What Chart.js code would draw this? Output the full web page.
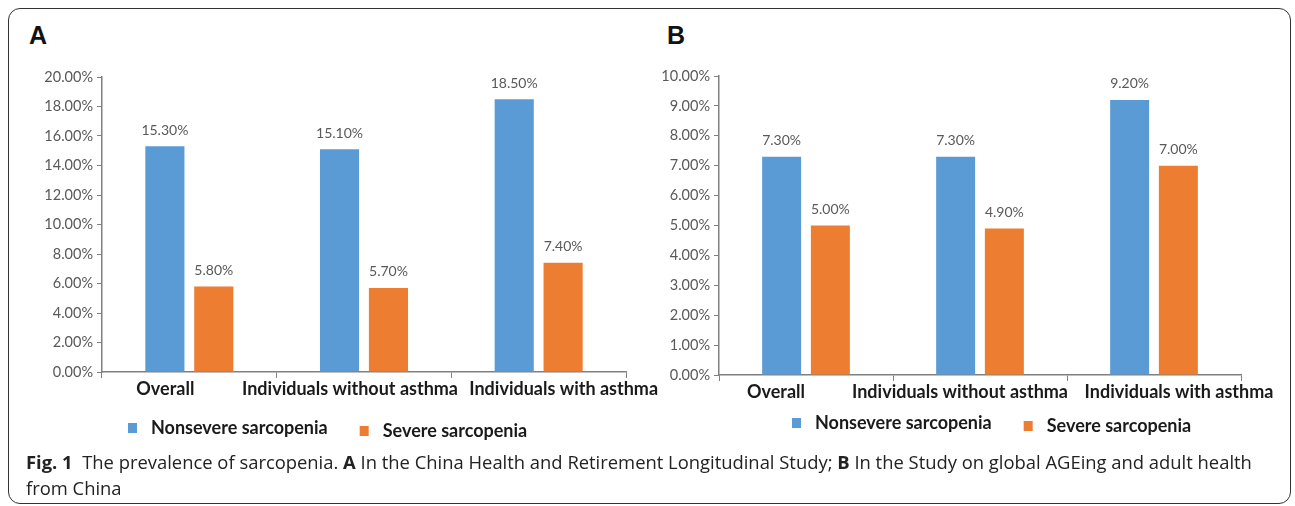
<!DOCTYPE html>
<html>
<head>
<meta charset="utf-8">
<script src="https://cdn.jsdelivr.net/npm/chart.js@4.4.1/dist/chart.umd.min.js"></script>
<style>
  body { margin: 0; background: #fff; width: 1295px; height: 506px; position: relative; overflow: hidden; }
  #frame { position: absolute; left: 8px; top: 8px; width: 1281px; height: 494px; border: 1px solid #333; border-radius: 12px; }
  .panelLetter { position: absolute; font-family: "Liberation Sans", Arial, sans-serif; font-weight: bold; font-size: 25px; color: #111; }
  .box { position: absolute; }
  #caption { position: absolute; left: 26px; top: 449px; font-family: "Open Sans", sans-serif; font-size: 18.4px; line-height: 26px; color: #222; white-space: nowrap; }
</style>
</head>
<body>
<div id="frame"></div>
<div class="panelLetter" style="left:29px; top:21px;">A</div>
<div class="panelLetter" style="left:667px; top:21px;">B</div>
<div class="box" style="left:9px; top:60px; width:660px; height:390px;"><canvas id="chartA"></canvas></div>
<div class="box" style="left:650px; top:60px; width:640px; height:390px;"><canvas id="chartB"></canvas></div>
<div id="caption"><b>Fig. 1</b>&nbsp;&nbsp;The prevalence of sarcopenia. <b>A</b> In the China Health and Retirement Longitudinal Study; <b>B</b> In the Study on global AGEing and adult health<br>from China</div>

<script>
// categories + values (percent)
var categories = ["Overall", "Individuals without asthma", "Individuals with asthma"]
var seriesNames = ["Nonsevere sarcopenia", "Severe sarcopenia"]
var nonsevereA = [15.3, 15.1, 18.5]
var severeA = [5.8, 5.7, 7.4]
var nonsevereB = [7.3, 7.3, 9.2]
var severeB = [5.0, 4.9, 7.0]

var blue = "#5b9bd5"
var orange = "#ed7d31"
var chartFont = "Lato, 'Open Sans', sans-serif"

// value labels above bars
var barLabels = {
  id: "barLabels",
  afterDatasetsDraw(chart) {
    var ctx = chart.ctx
    ctx.save()
    ctx.font = "14px " + chartFont
    ctx.fillStyle = "#595959"
    ctx.textAlign = "center"
    ctx.textBaseline = "middle"
    chart.data.datasets.forEach((ds, i) => {
      chart.getDatasetMeta(i).data.forEach((bar, j) => {
        ctx.fillText(ds.data[j].toFixed(2) + "%", bar.x, bar.y - 16)
      })
    })
    ctx.restore()
  }
}

// category names under the axis; the long names spread out a bit like in the original
var catLabels = {
  id: "catLabels",
  afterDraw(chart, args, opts) {
    var ctx = chart.ctx
    var xs = chart.scales.x
    ctx.save()
    ctx.font = "bold 18px " + chartFont
    ctx.fillStyle = "#1a1a1a"
    ctx.textAlign = "center"
    ctx.textBaseline = "middle"
    chart.data.labels.forEach((lbl, i) => {
      ctx.fillText(lbl, xs.getPixelForTick(i) + opts.shift[i], chart.chartArea.bottom + 17)
    })
    ctx.restore()
  }
}

// legend drawn under the axis (square + bold text)
var boxLegend = {
  id: "boxLegend",
  afterDraw(chart, args, opts) {
    var ctx = chart.ctx
    ctx.save()
    ctx.font = "bold 18px " + chartFont
    ctx.textBaseline = "middle"
    ctx.textAlign = "left"
    var x = opts.x
    chart.data.datasets.forEach((ds, i) => {
      var y = opts.y + i * opts.drop
      ctx.fillStyle = ds.backgroundColor
      ctx.fillRect(x, y - 5, 9, 10)
      ctx.fillStyle = "#1a1a1a"
      ctx.fillText(ds.label, x + 23, y)
      x += 23 + ctx.measureText(ds.label).width + 32
    })
    ctx.restore()
  }
}

function makeChart(id, nonsevere, severe, yMax, yStep, layout, legendPos, labelShift) {
  var ctx = document.getElementById(id).getContext("2d")
  return new Chart(ctx, {
    type: "bar",
    data: {
      labels: categories,
      datasets: [{
        label: seriesNames[0],
        backgroundColor: blue,
        data: nonsevere
      }, {
        label: seriesNames[1],
        backgroundColor: orange,
        data: severe
      }]
    },
    options: {
      responsive: true,
      maintainAspectRatio: false,
      animation: false,
      categoryPercentage: 0.56,
      barPercentage: 0.8,
      layout: { padding: layout.padding, autoPadding: false },
      plugins: {
        legend: { display: false },
        tooltip: { enabled: false },
        boxLegend: legendPos,
        catLabels: { shift: labelShift }
      },
      scales: {
        x: {
          afterFit: s => { s.height = layout.xHeight },
          border: { color: "#808080", width: 1.5 },
          grid: { drawOnChartArea: false, color: "#808080", tickLength: 6 },
          ticks: { display: false }
        },
        y: {
          min: 0,
          max: yMax,
          afterFit: s => { s.width = layout.yWidth },
          border: { color: "#808080", width: 1.5 },
          grid: { drawOnChartArea: false, color: "#808080", tickLength: 5 },
          ticks: {
            stepSize: yStep,
            color: "#595959",
            padding: 4,
            font: { family: chartFont, size: 14.5 },
            callback: v => v.toFixed(2) + "%"
          }
        }
      }
    },
    plugins: [barLabels, catLabels, boxLegend]
  })
}

var chartA = makeChart("chartA", nonsevereA, severeA, 20, 2,
  { padding: { left: 0, top: 17, right: 43, bottom: 38 }, xHeight: 40, yWidth: 93 },
  { x: 119, y: 368, drop: 3 },
  [-24, -14, 25])

var chartB = makeChart("chartB", nonsevereB, severeB, 10, 1,
  { padding: { left: 0, top: 16, right: 49, bottom: 35 }, xHeight: 40, yWidth: 69 },
  { x: 142, y: 363, drop: 3 },
  [-30, -20, 25])
</script>
</body>
</html>
